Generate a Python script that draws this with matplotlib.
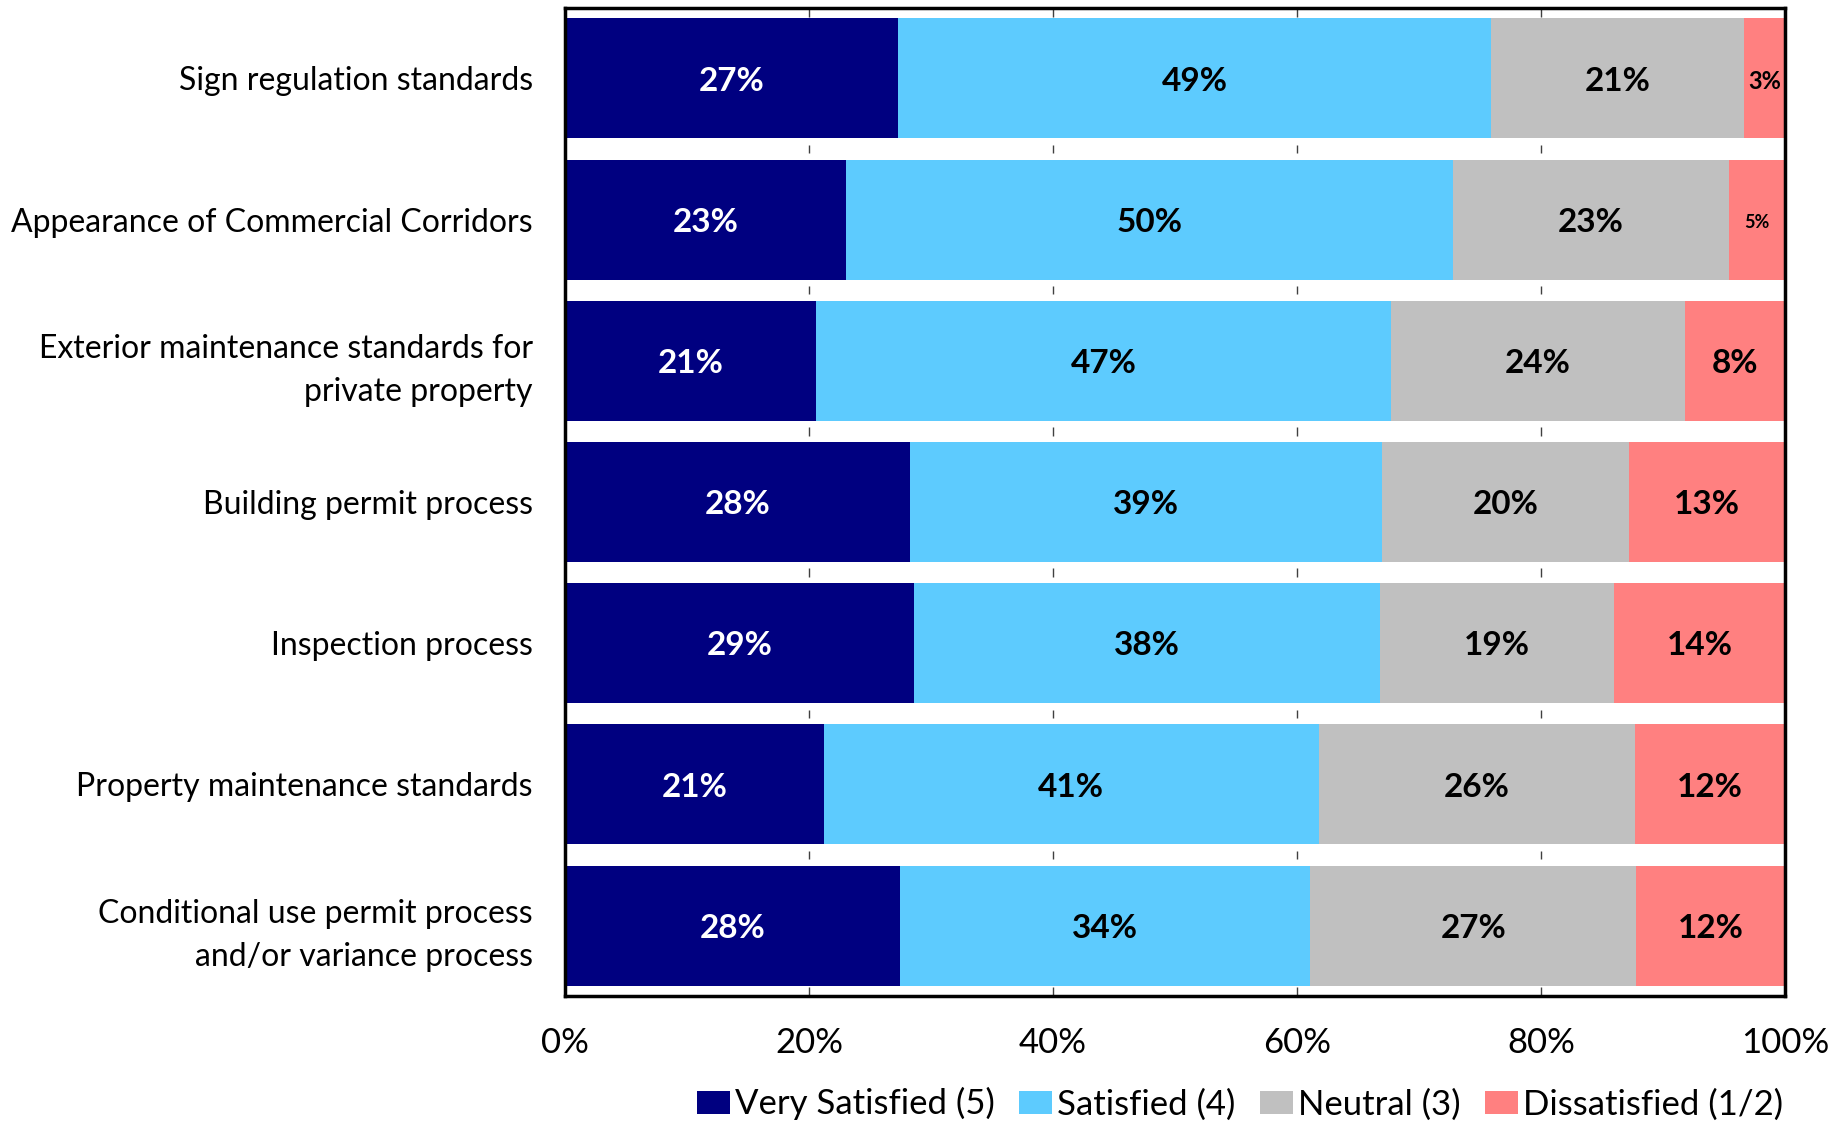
import numpy as np
import matplotlib.pyplot as plt

plt.rcParams['font.family'] = ['Lato', 'DejaVu Sans']

# Survey items, top to bottom
items = ['Sign regulation standards',
         'Appearance of Commercial Corridors',
         'Exterior maintenance standards for\nprivate property',
         'Building permit process',
         'Inspection process',
         'Property maintenance standards',
         'Conditional use permit process\nand/or variance process']

# Share of responses (%) per rating
very_satisfied = [27.3, 23.0, 20.6, 28.3, 28.6, 21.2, 27.5]
satisfied = [48.6, 49.8, 47.1, 38.7, 38.2, 40.6, 33.6]
neutral = [20.7, 22.6, 24.1, 20.2, 19.2, 25.9, 26.7]
dissatisfied = [3.4, 4.6, 8.2, 12.8, 14.0, 12.3, 12.2]

series = ['Very Satisfied (5)', 'Satisfied (4)', 'Neutral (3)', 'Dissatisfied (1/2)']
colors = ['#000080', '#5DCBFE', '#C0C0C0', '#FF8080']
text_colors = ['white', 'black', 'black', 'black']
xticks = [0, 20, 40, 60, 80, 100]

fig = plt.figure(figsize=(18.46, 11.23), dpi=100)
ax = fig.add_axes([0.306, 0.113, 0.661, 0.880])

y = np.arange(len(items))
data = np.array([very_satisfied, satisfied, neutral, dissatisfied])
left = np.zeros(len(items))
for vals, name, col, tcol in zip(data, series, colors, text_colors):
    ax.barh(y, vals, left=left, height=0.85, color=col, label=name, zorder=2)
    for yi, (l, v) in enumerate(zip(left, vals)):
        # narrow segments get a smaller label so it still fits
        if v < 4:
            fs = 17
        elif v < 6:
            fs = 13
        else:
            fs = 24
        ax.text(l + v / 2, yi + 0.02, f'{v:.0f}%', ha='center', va='center',
                color=tcol, fontsize=fs, fontweight='bold', zorder=3)
    left = left + vals

# short grid marks visible between the bars
for g in np.arange(-0.5, len(items), 1.0):
    yc = g + 0.0375 if g < 0 else (g - 0.0375 if g > len(items) - 1 else g)
    ax.vlines(xticks[1:-1], yc - 0.03, yc + 0.03, color='#404040', lw=1, zorder=1)

ax.set_xlim(0, 100)
ax.set_ylim(len(items) - 0.5, -0.5)
ax.set_yticks(y)
ax.set_yticklabels(items, fontsize=23, linespacing=1.55)
ax.set_xticks(xticks)
ax.set_xticklabels([f'{t}%' for t in xticks], fontsize=25)
ax.tick_params(axis='both', length=0)
ax.tick_params(axis='x', pad=22)
ax.tick_params(axis='y', pad=23)
for s in ax.spines.values():
    s.set_linewidth(2.5)
    s.set_color('black')

fig.legend(loc='center right', bbox_to_anchor=(0.966, 0.017), ncol=4,
           frameon=False, fontsize=25, handlelength=0.95, handleheight=0.65,
           handletextpad=0.15, columnspacing=0.7, borderaxespad=0, borderpad=0)

fig.savefig('out.png', dpi=100)
